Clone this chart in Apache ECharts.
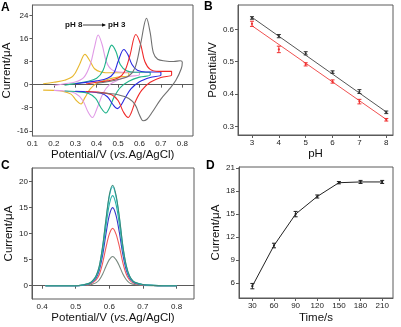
<!DOCTYPE html>
<html><head><meta charset="utf-8">
<script src="https://cdn.jsdelivr.net/npm/echarts@6/dist/echarts.min.js"></script>
<style>html,body{margin:0;padding:0;background:#fff}#c{width:401px;height:327px}</style>
</head><body><div id="c"></div>
<script>
// ---------- Panel A: cyclic voltammograms (pH 8 -> pH 3) [potential V, current uA]
const cvPH8 = [[0.15,0.3],[0.20,0.8],[0.25,1.5],[0.29,3],[0.32,7],[0.345,10.5],[0.37,8],[0.39,5.5],[0.42,4.4],[0.47,4.1],[0.55,4.1],
  [0.55,3.2],[0.50,2.6],[0.45,1.8],[0.40,0.5],[0.37,-1.5],[0.345,-4.5],[0.327,-6.7],[0.305,-5.5],[0.28,-3.3],[0.24,-2.3],[0.20,-2.0],[0.15,-1.9]];
const cvPH7 = [[0.20,-0.3],[0.25,0.3],[0.30,0.9],[0.34,2.5],[0.37,7],[0.39,13],[0.407,17.2],[0.425,14],[0.445,8],[0.47,5.2],[0.52,4.3],[0.60,4.3],
  [0.60,3.4],[0.55,2.8],[0.50,1.6],[0.46,0],[0.43,-3],[0.40,-8.5],[0.38,-11.4],[0.36,-9.5],[0.335,-5.5],[0.30,-3.0],[0.25,-2.2],[0.20,-2.0]];
const cvPH6 = [[0.25,-0.2],[0.30,0.4],[0.35,1.0],[0.40,2.2],[0.43,5],[0.45,10],[0.47,13.7],[0.49,11.5],[0.51,7],[0.54,4.8],[0.58,4.3],[0.65,4.3],
  [0.65,3.3],[0.60,2.6],[0.55,1.2],[0.51,-1],[0.48,-4.5],[0.46,-8],[0.443,-9.8],[0.42,-8],[0.395,-4.8],[0.36,-3],[0.30,-2.4],[0.25,-2.2]];
const cvPH5 = [[0.30,0.3],[0.35,0.8],[0.40,1.3],[0.45,2.2],[0.48,4],[0.50,8],[0.527,12.2],[0.545,10.5],[0.565,7],[0.59,5],[0.63,4.4],[0.70,4.4],
  [0.70,3.3],[0.65,2.5],[0.60,1.0],[0.56,-1.5],[0.53,-5],[0.51,-7.5],[0.496,-8.3],[0.475,-6.8],[0.45,-4.2],[0.42,-3.0],[0.36,-2.5],[0.30,-2.3]];
const cvPH4 = [[0.35,0.2],[0.40,0.8],[0.45,1.3],[0.50,2.3],[0.53,4.5],[0.555,10],[0.583,17.4],[0.605,14],[0.625,8],[0.65,5.3],[0.69,4.6],[0.75,4.6],
  [0.75,3.3],[0.70,2.5],[0.65,0.8],[0.61,-2],[0.58,-6],[0.56,-10],[0.547,-11.4],[0.525,-9.5],[0.50,-5.5],[0.47,-3.5],[0.42,-2.7],[0.35,-2.4]];
const cvPH3 = [[0.40,0.5],[0.45,1.0],[0.50,1.8],[0.55,3],[0.58,6],[0.605,14],[0.633,23],[0.65,18],[0.665,11],[0.685,8.8],[0.72,8.2],[0.76,8.0],[0.79,8.3],[0.80,7.8],
  [0.795,5.5],[0.77,1.5],[0.74,-1.5],[0.70,-5],[0.66,-9.5],[0.635,-12],[0.617,-12.5],[0.60,-10.5],[0.58,-7],[0.55,-4.8],[0.50,-3.5],[0.45,-3],[0.40,-2.8]];
const cvTicksX = [0.1,0.2,0.3,0.4,0.5,0.6,0.7,0.8];
const cvTicksY = [-16,-8,0,8,16,24];

// ---------- Panel B: peak potential vs pH
const pH = [3,4,5,6,7,8];
const epa = [0.635,0.579,0.526,0.468,0.408,0.344];
const epaErr = [0.004,0.005,0.005,0.004,0.006,0.004];
const epc = [0.617,0.538,0.492,0.439,0.377,0.321];
const epcErr = [0.008,0.010,0.005,0.005,0.007,0.004];
const fitA = [[3,0.637],[8,0.345]];
const fitC = [[3,0.611],[8,0.322]];
const bTicksY = [0.3,0.4,0.5,0.6];

// ---------- Panel C: DPV curves
const potC = [0.41,0.45,0.50,0.52,0.54,0.55,0.56,0.57,0.58,0.59,0.60,0.61,0.62,0.63,0.64,0.65,0.66,0.67,0.68,0.70,0.73,0.76,0.80];
const dpv1 = [0,0,0,0.05,0.15,0.3,0.55,1.1,2.2,3.7,5.0,5.6,5.0,3.8,2.3,1.2,0.55,0.3,0.18,0.07,0.02,0,0];
const dpv2 = [0,0,0,0.08,0.25,0.55,1.05,2.1,4.3,7.3,9.9,11.0,9.9,7.5,4.5,2.3,1.1,0.55,0.35,0.13,0.04,0,0];
const dpv3 = [0,0,0,0.1,0.35,0.75,1.4,2.9,5.8,9.9,13.5,15.0,13.5,10.2,6.1,3.1,1.5,0.75,0.45,0.18,0.05,0,0];
const dpv4 = [0,0,0,0.12,0.4,0.85,1.6,3.3,6.7,11.4,15.6,17.3,15.6,11.8,7.0,3.6,1.7,0.85,0.5,0.2,0.06,0,0];
const dpv5 = [0,0,0,0.13,0.45,0.95,1.75,3.6,7.4,12.5,17.1,19.0,17.1,13.0,7.7,3.9,1.85,0.95,0.55,0.22,0.06,0,0];
const dpv6 = [0,0,0,0.13,0.45,0.95,1.8,3.7,7.5,12.7,17.4,19.3,17.4,13.2,7.8,4.0,1.9,0.95,0.55,0.22,0.06,0,0];
const cTicksX = [0.4,0.5,0.6,0.7,0.8];
const cTicksY = [0,5,10,15,20];

// ---------- Panel D: current vs accumulation time
const timeS = [30,60,90,120,150,180,210];
const currD = [5.6,10.9,15.0,17.3,19.1,19.2,19.2];
const currDErr = [0.35,0.3,0.35,0.2,0.15,0.2,0.2];
const dTicksX = [30,60,90,120,150,180,210];
const dTicksY = [6,9,12,15,18,21];

const FONT = 'Liberation Sans, Arial, sans-serif';
const frame = '#5a5a5a';
const tickLbl = {fontSize: 8, color: '#222', fontFamily: FONT, margin: 4};
const nameStyle = {fontSize: 11.5, color: '#111', fontFamily: FONT};

function axis(gridIndex, min, max, ticks, extra) {
  return Object.assign({
    type: 'value', gridIndex, min, max,
    axisLine: {show: true, lineStyle: {color: frame, width: 1}},
    axisTick: {show: true, length: 3, lineStyle: {color: frame}, customValues: ticks},
    axisLabel: Object.assign({customValues: ticks}, tickLbl),
    splitLine: {show: false},
    nameLocation: 'middle', nameTextStyle: nameStyle
  }, extra || {});
}

function errSeries(xi, yi, xs, ys, es, color) {
  return {
    type: 'custom', xAxisIndex: xi, yAxisIndex: yi, z: 5,
    data: xs.map((x, i) => [x, ys[i], es[i]]),
    renderItem: function (params, api) {
      const x = api.value(0), y = api.value(1), e = api.value(2);
      const top = api.coord([x, y + e]), bot = api.coord([x, y - e]), c = api.coord([x, y]);
      const w = 2;
      return {type: 'group', children: [
        {type: 'line', shape: {x1: top[0], y1: top[1], x2: bot[0], y2: bot[1]}, style: {stroke: color, lineWidth: 1}},
        {type: 'line', shape: {x1: top[0]-w, y1: top[1], x2: top[0]+w, y2: top[1]}, style: {stroke: color, lineWidth: 1}},
        {type: 'line', shape: {x1: bot[0]-w, y1: bot[1], x2: bot[0]+w, y2: bot[1]}, style: {stroke: color, lineWidth: 1}},
        {type: 'circle', shape: {cx: c[0], cy: c[1], r: 1.1}, style: {fill: color}}
      ]};
    }
  };
}

const cvColors = ['#e8b830', '#e09ae6', '#1fb38a', '#2a2ae0', '#f02a2a', '#707070'];
const cvData = [cvPH8, cvPH7, cvPH6, cvPH5, cvPH4, cvPH3];
const dpvData = [dpv1, dpv2, dpv3, dpv4, dpv5, dpv6];
const dpvColors = ['#7a8a80', '#f05a5a', '#3838c8', '#28b0a8', '#30d0e0', '#3c8a78'];

const chart = echarts.init(document.getElementById('c'), null, {renderer: 'canvas'});
const series = [];
cvData.forEach((d, i) => series.push({type: 'line', xAxisIndex: 0, yAxisIndex: 0, data: d, smooth: 0.35, showSymbol: false, lineStyle: {color: cvColors[i], width: 1.1}}));
series.push({type: 'line', xAxisIndex: 1, yAxisIndex: 1, data: fitA, showSymbol: false, lineStyle: {color: '#555', width: 1}});
series.push({type: 'line', xAxisIndex: 1, yAxisIndex: 1, data: fitC, showSymbol: false, lineStyle: {color: '#f05050', width: 1}});
series.push(errSeries(1, 1, pH, epa, epaErr, '#333'));
series.push(errSeries(1, 1, pH, epc, epcErr, '#f03030'));
dpvData.forEach((d, i) => series.push({type: 'line', xAxisIndex: 2, yAxisIndex: 2, data: potC.map((v, k) => [v, d[k]]), smooth: 0.3, showSymbol: false, lineStyle: {color: dpvColors[i], width: 1.1}}));
series.push({type: 'line', xAxisIndex: 3, yAxisIndex: 3, data: timeS.map((t, i) => [t, currD[i]]), showSymbol: false, lineStyle: {color: '#222', width: 1}});
series.push(errSeries(3, 3, timeS, currD, currDErr, '#222'));

const gridStyle = {show: true, borderColor: frame, borderWidth: 1, backgroundColor: 'transparent'};
chart.setOption({
  animation: false,
  grid: [
    Object.assign({left: 32, right: 208, top: 5, bottom: 191}, gridStyle),
    Object.assign({left: 238, right: 8, top: 5, bottom: 192}, gridStyle),
    Object.assign({left: 32, right: 207, top: 168, bottom: 28}, gridStyle),
    Object.assign({left: 239, right: 8, top: 167, bottom: 29}, gridStyle)
  ],
  xAxis: [
    axis(0, 0.1, 0.85, cvTicksX, {name: 'Potential/V ({i|vs.}Ag/AgCl)', nameGap: 13, nameTextStyle: Object.assign({rich: {i: {fontStyle: 'italic', fontSize: 11.5, fontFamily: FONT, color: '#111'}}}, nameStyle)}),
    axis(1, 2.48, 8.25, pH, {name: 'pH', nameGap: 13}),
    axis(2, 0.37, 0.852, cTicksX, {name: 'Potential/V ({i|vs.}Ag/AgCl)', nameGap: 12, nameTextStyle: Object.assign({rich: {i: {fontStyle: 'italic', fontSize: 11.5, fontFamily: FONT, color: '#111'}}}, nameStyle)}),
    axis(3, 11.5, 225, dTicksX, {name: 'Time/s', nameGap: 14})
  ],
  yAxis: [
    axis(0, -17.8, 27.6, cvTicksY, {name: 'Current/μA', nameGap: 17}),
    axis(1, 0.274, 0.675, bTicksY, {name: 'Potential/V', nameGap: 19}),
    axis(2, -2.55, 22.6, cTicksY, {name: 'Current/μA', nameGap: 17}),
    axis(3, 4.05, 21.15, dTicksY, {name: 'Current/μA', nameGap: 14})
  ],
  series: series,
  graphic: [
    {type: 'text', left: 1, top: 2, style: {text: 'A', font: 'bold 12px ' + FONT, fill: '#000'}},
    {type: 'text', left: 204, top: 1, style: {text: 'B', font: 'bold 12px ' + FONT, fill: '#000'}},
    {type: 'text', left: 1, top: 160, style: {text: 'C', font: 'bold 12px ' + FONT, fill: '#000'}},
    {type: 'text', left: 206, top: 160, style: {text: 'D', font: 'bold 12px ' + FONT, fill: '#000'}},
    {type: 'text', x: 65, y: 21, style: {text: 'pH 8', font: 'bold 8px ' + FONT, fill: '#111'}},
    {type: 'text', x: 108, y: 21, style: {text: 'pH 3', font: 'bold 8px ' + FONT, fill: '#111'}},
    {type: 'line', shape: {x1: 83, y1: 25, x2: 105, y2: 25}, style: {stroke: '#111', lineWidth: 0.8}},
    {type: 'polygon', shape: {points: [[106, 25], [102, 23.3], [102, 26.7]]}, style: {fill: '#111'}}
  ]
});
</script></body></html>
